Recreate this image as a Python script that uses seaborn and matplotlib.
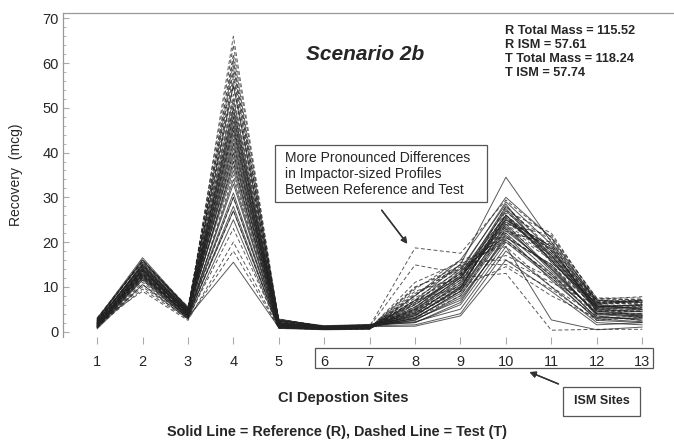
import pandas as pd
import matplotlib
matplotlib.use('Agg')
import matplotlib.pyplot as plt
from matplotlib.patches import Rectangle
from matplotlib.ticker import MultipleLocator
import seaborn as sns

sns.set_style('white')
plt.rcParams['font.family'] = ['Liberation Sans', 'DejaVu Sans']


# cascade impactor sites and recovered mass (mcg) per profile
sites = list(range(1, 14))

ref_profiles = [
    [1.5, 14.0, 4.0, 44.0, 1.5, 0.8, 1.0, 3.0, 9.0, 24.0, 14.0, 4.0, 3.5],
    [2.0, 15.0, 4.5, 50.0, 2.0, 1.0, 1.2, 2.5, 8.0, 22.0, 13.0, 3.0, 3.0],
    [1.0, 13.0, 3.5, 38.0, 1.0, 0.6, 0.8, 4.0, 11.0, 26.0, 16.0, 5.0, 4.5],
    [2.5, 16.0, 5.0, 55.0, 2.5, 1.2, 1.5, 2.0, 6.0, 20.0, 12.0, 2.5, 2.0],
    [1.8, 12.5, 3.8, 33.0, 1.2, 0.7, 0.9, 5.0, 12.0, 28.0, 18.0, 6.0, 5.0],
    [0.8, 11.5, 3.0, 28.0, 0.8, 0.5, 0.7, 6.0, 13.0, 27.0, 17.0, 5.5, 6.0],
    [3.0, 15.5, 5.5, 42.0, 2.8, 1.1, 1.3, 1.5, 4.0, 18.0, 10.0, 2.0, 1.5],
    [1.2, 13.5, 4.2, 46.0, 1.6, 0.9, 1.1, 3.5, 10.0, 25.0, 19.0, 4.5, 4.0],
    [2.2, 14.5, 4.8, 52.0, 2.2, 1.0, 1.4, 2.8, 7.0, 21.0, 15.0, 3.5, 2.5],
    [1.0, 12.0, 3.2, 15.5, 0.9, 0.5, 0.6, 7.0, 15.0, 34.5, 20.0, 7.0, 6.5],
    [1.6, 13.8, 4.4, 40.0, 1.4, 0.8, 1.0, 3.8, 9.5, 23.5, 13.5, 4.2, 3.8],
    [2.8, 16.5, 5.2, 48.0, 2.6, 1.3, 1.6, 2.2, 5.0, 19.0, 2.6, 0.4, 1.0],
    [1.4, 14.2, 4.6, 36.0, 1.3, 0.7, 0.9, 4.5, 11.5, 27.5, 16.5, 5.2, 5.5],
    [0.6, 10.5, 2.8, 25.0, 0.7, 0.4, 0.5, 8.0, 16.0, 30.0, 21.0, 6.5, 7.0],
    [2.0, 15.2, 4.9, 45.0, 1.9, 1.0, 1.2, 3.2, 8.5, 22.5, 14.5, 3.8, 3.2],
    [1.3, 12.8, 3.6, 31.0, 1.1, 0.6, 0.8, 5.5, 12.5, 26.0, 17.5, 5.8, 5.0],
    [2.4, 14.8, 4.7, 41.0, 1.7, 0.9, 1.1, 1.2, 3.5, 16.0, 9.0, 1.5, 2.0],
    [1.7, 13.2, 4.1, 43.0, 1.5, 0.8, 1.0, 4.2, 10.5, 24.5, 18.5, 4.8, 4.4],
    [0.9, 11.8, 3.3, 34.0, 1.0, 0.6, 0.7, 6.5, 14.0, 28.5, 15.5, 6.2, 6.8],
    [2.6, 16.0, 5.0, 39.0, 2.4, 1.2, 1.4, 2.0, 6.5, 21.5, 11.5, 2.8, 2.2],
    [1.5, 13.6, 4.3, 47.0, 1.4, 0.8, 1.0, 3.6, 9.8, 25.5, 16.0, 4.6, 3.6],
    [1.1, 12.2, 3.7, 30.0, 1.0, 0.6, 0.8, 5.2, 13.5, 29.0, 19.5, 5.6, 5.8],
    [2.1, 14.6, 4.5, 37.0, 1.8, 0.9, 1.1, 2.6, 7.5, 20.5, 12.5, 3.2, 2.8],
    [1.9, 14.0, 4.0, 49.0, 1.6, 0.9, 1.0, 3.0, 9.0, 23.0, 14.0, 4.0, 3.4],
    [1.2, 12.6, 3.4, 27.0, 0.9, 0.5, 0.7, 4.8, 12.0, 25.0, 17.0, 5.4, 4.8],
]

test_profiles = [
    [1.5, 13.5, 4.0, 66.0, 2.0, 1.0, 1.2, 18.7, 17.5, 29.4, 21.0, 7.5, 7.5],
    [1.0, 12.0, 3.5, 60.0, 1.8, 0.9, 1.1, 14.9, 13.0, 26.0, 18.0, 6.5, 6.0],
    [2.0, 9.0, 2.5, 20.0, 0.8, 0.5, 0.6, 9.0, 12.0, 13.0, 0.3, 0.5, 0.5],
    [1.2, 10.0, 3.0, 23.0, 1.0, 0.6, 0.8, 7.0, 10.0, 14.5, 8.0, 3.0, 3.5],
    [2.5, 14.0, 4.5, 57.0, 2.2, 1.0, 1.3, 5.0, 11.0, 24.0, 17.0, 6.0, 5.5],
    [1.8, 13.0, 4.2, 62.0, 2.5, 1.1, 1.4, 4.0, 9.0, 27.0, 22.0, 7.0, 6.5],
    [0.8, 11.0, 3.2, 30.0, 1.2, 0.7, 0.9, 10.0, 14.0, 17.0, 12.0, 4.0, 4.0],
    [2.2, 15.0, 5.0, 53.0, 2.0, 1.0, 1.2, 6.0, 12.5, 25.0, 19.0, 6.8, 7.0],
    [1.4, 12.5, 3.8, 45.0, 1.5, 0.8, 1.0, 8.0, 15.0, 21.0, 15.0, 5.0, 5.0],
    [3.0, 16.0, 5.5, 58.0, 2.8, 1.2, 1.5, 3.0, 8.0, 23.0, 16.0, 5.5, 6.0],
    [1.6, 13.8, 4.0, 48.0, 1.6, 0.8, 1.0, 7.5, 13.5, 22.0, 20.0, 6.2, 6.8],
    [1.0, 11.5, 3.0, 35.0, 1.0, 0.6, 0.8, 9.5, 16.0, 19.0, 10.0, 3.5, 2.5],
    [2.4, 14.5, 4.6, 64.0, 2.4, 1.1, 1.3, 4.5, 10.5, 28.0, 18.5, 7.2, 7.8],
    [1.9, 13.2, 4.4, 51.0, 1.8, 0.9, 1.1, 6.5, 12.0, 24.5, 17.5, 6.4, 6.2],
    [1.3, 12.2, 3.6, 42.0, 1.4, 0.7, 0.9, 8.5, 14.5, 20.0, 13.0, 4.5, 4.5],
    [2.7, 15.5, 5.2, 59.0, 2.6, 1.1, 1.4, 3.5, 9.5, 26.5, 20.5, 7.0, 7.2],
    [1.1, 10.5, 3.3, 27.0, 0.9, 0.6, 0.7, 11.0, 15.5, 16.0, 11.0, 5.8, 3.0],
    [2.0, 14.2, 4.3, 55.0, 2.1, 1.0, 1.2, 5.5, 11.5, 23.5, 16.5, 6.0, 5.8],
    [1.7, 13.0, 4.0, 46.0, 1.7, 0.8, 1.0, 7.0, 13.0, 22.5, 19.5, 6.6, 6.4],
    [1.5, 12.8, 3.9, 40.0, 1.3, 0.7, 0.9, 6.8, 12.8, 21.5, 14.5, 5.2, 5.4],
    [2.3, 14.8, 4.8, 61.0, 2.3, 1.0, 1.3, 4.8, 10.0, 25.5, 18.0, 6.8, 6.6],
    [1.0, 9.5, 2.8, 18.0, 0.8, 0.5, 0.6, 9.8, 14.8, 15.0, 9.5, 2.5, 3.2],
    [1.8, 13.6, 4.1, 50.0, 1.9, 0.9, 1.1, 6.2, 12.2, 24.0, 21.5, 7.4, 7.0],
    [2.6, 15.8, 5.1, 56.0, 2.4, 1.1, 1.3, 4.2, 9.8, 26.0, 15.5, 5.6, 5.2],
    [1.3, 12.4, 3.7, 38.0, 1.2, 0.7, 0.8, 8.2, 14.2, 20.5, 12.5, 4.8, 4.6],
]

stats_text = 'R Total Mass = 115.52\nR ISM = 57.61\nT Total Mass = 118.24\nT ISM = 57.74'


# long format table: one row per site per profile
rows = []
for group, profiles in [('R', ref_profiles), ('T', test_profiles)]:
    for i, prof in enumerate(profiles):
        for s, v in zip(sites, prof):
            rows.append({'site': s, 'recovery': v, 'group': group, 'unit': group + str(i)})
df = pd.DataFrame(rows)


fig = plt.figure(figsize=(6.74, 4.41), dpi=100)
ax = fig.add_axes([0.0935, 0.236, 0.9065, 0.7345])

sns.lineplot(data=df, x='site', y='recovery', units='unit', estimator=None,
             style='group', dashes={'R': '', 'T': (4, 2.5)}, color='#222222',
             linewidth=0.7, alpha=0.75, legend=False, ax=ax)

ax.set_xlim(0.25, 13.7)
ax.set_ylim(-1.2, 71.2)
ax.set_xticks(sites)
ax.set_yticks(range(0, 71, 10))
ax.yaxis.set_minor_locator(MultipleLocator(2))
ax.tick_params(axis='x', direction='out', length=5, width=0.8, color='#aaaaaa',
               pad=8, labelsize=10.5, bottom=True)
ax.tick_params(axis='y', which='major', direction='in', length=4, width=0.8,
               color='#aaaaaa', pad=3, labelsize=10.5, left=True)
ax.tick_params(axis='y', which='minor', direction='in', length=2.5, width=0.6,
               color='#aaaaaa', left=True)
for sp in ['bottom', 'right']:
    ax.spines[sp].set_visible(False)
for sp in ['left', 'top']:
    ax.spines[sp].set_color('#999999')
    ax.spines[sp].set_linewidth(0.9)
ax.set_xlabel('')
ax.set_ylabel('')

W, H = 674.0, 441.0


def fx(px):
    return px / W


def fy(py):
    return 1 - py / H


# labels and titles
fig.text(fx(16), fy(175), 'Recovery  (mcg)', rotation=90, ha='center', va='center', fontsize=10)
fig.text(fx(365), fy(55), 'Scenario 2b', ha='center', va='center', fontsize=15,
         fontweight='bold', fontstyle='italic')
fig.text(fx(505), fy(25), stats_text, ha='left', va='top', fontsize=9.2,
         fontweight='bold', linespacing=1.22)
fig.text(fx(343), fy(398), 'CI Depostion Sites', ha='center', va='center',
         fontsize=10.6, fontweight='bold')
fig.text(fx(337), fy(432), 'Solid Line = Reference (R), Dashed Line = Test (T)',
         ha='center', va='center', fontsize=10.4, fontweight='bold')

# box around ISM site tick labels
fig.add_artist(Rectangle((fx(315), fy(368)), fx(653) - fx(315), fy(348) - fy(368),
                         transform=fig.transFigure, fill=False, edgecolor='#555555', lw=0.9))

# ISM sites callout
fig.add_artist(Rectangle((fx(563), fy(416)), fx(640) - fx(563), fy(387) - fy(416),
                         transform=fig.transFigure, fill=False, edgecolor='#555555', lw=0.9))
fig.text(fx(601.5), fy(401), 'ISM Sites', ha='center', va='center', fontsize=9, fontweight='bold')
fig.add_artist(plt.annotate('', xy=(fx(527), fy(371)), xytext=(fx(561), fy(385)),
                            xycoords='figure fraction', textcoords='figure fraction',
                            arrowprops=dict(arrowstyle='-|>', color='#333333', lw=1,
                                            mutation_scale=9)))

# differences callout
fig.add_artist(Rectangle((fx(275), fy(202)), fx(487) - fx(275), fy(145) - fy(202),
                         transform=fig.transFigure, facecolor='white', edgecolor='#555555', lw=0.9))
fig.text(fx(285), fy(174), 'More Pronounced Differences\nin Impactor-sized Profiles\nBetween Reference and Test',
         ha='left', va='center', fontsize=10, linespacing=1.2)
fig.add_artist(plt.annotate('', xy=(fx(409), fy(246)), xytext=(fx(380), fy(208)),
                            xycoords='figure fraction', textcoords='figure fraction',
                            arrowprops=dict(arrowstyle='-|>', color='#333333', lw=1,
                                            mutation_scale=9)))

fig.savefig('out.png', dpi=100, facecolor='white')
